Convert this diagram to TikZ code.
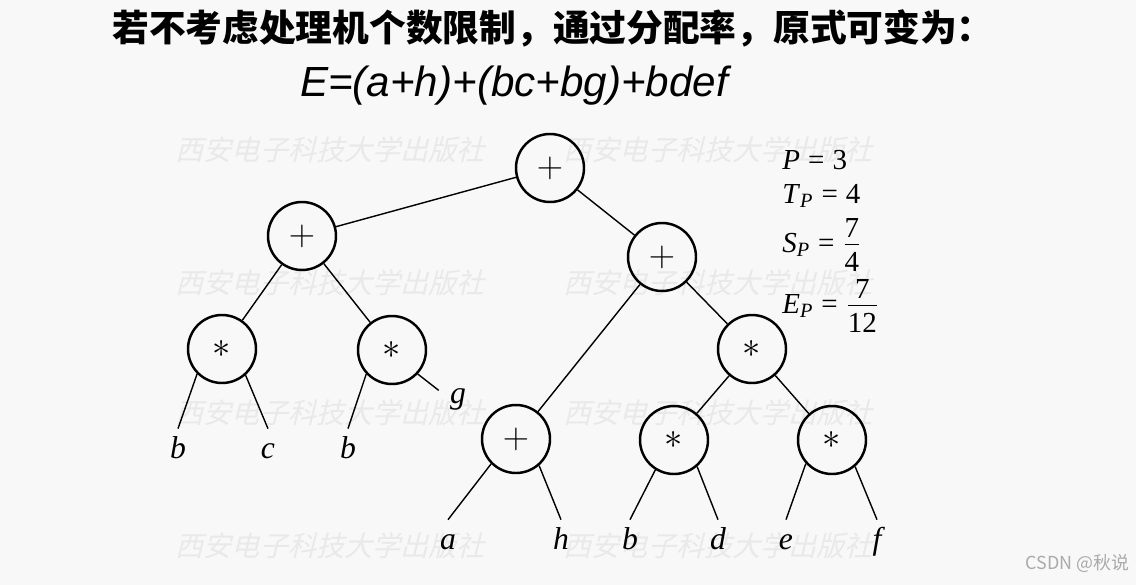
\documentclass[tikz,border=0pt]{standalone}
\usepackage{amsmath}
\usepackage{fontspec}
\setmainfont{Liberation Serif}
\newfontfamily\cjk{Noto Sans CJK SC}
\newfontfamily\formulafont{Liberation Sans}
\definecolor{bgc}{RGB}{248,248,248}
\definecolor{wmc}{RGB}{233,233,233}
\definecolor{csdn}{RGB}{170,170,170}
\newcommand{\myfrac}[2]{$\textstyle\frac{\mbox{#1}\rule[-3pt]{0pt}{1pt}}{\mbox{#2}\rule{0pt}{14pt}}$}
\begin{document}
\begin{tikzpicture}[x=0.02cm,y=-0.02cm,
  opnode/.style={circle,draw,line width=1.4pt,minimum size=68*0.02cm,inner sep=0pt,
    font=\fontsize{20pt}{22pt}\selectfont},
  leaf/.style={inner sep=0pt,minimum height=50*0.02cm,text height=0.7em,text depth=0.2em,
    font=\fontsize{18pt}{20pt}\selectfont\itshape},
  edge/.style={line width=0.8pt},
  wm/.style={text=wmc,font=\cjk\fontsize{16pt}{18pt}\selectfont,anchor=west,inner sep=0pt,xslant=0.25},
  stat/.style={anchor=west,inner sep=0pt,font=\fontsize{16.5pt}{20pt}\selectfont}
]
\fill[bgc] (0,0) rectangle (1136,585);
\useasboundingbox (0,0) rectangle (1136,585);
% watermarks
\foreach \wy/\wn in {150/1,283/2,413/3,546/4}{
  \node[wm] (wma\wn) at (178,\wy) {西安电子科技大学出版社};
  \node[wm] (wmb\wn) at (566,\wy) {西安电子科技大学出版社};
}
% title
\node[font=\cjk\bfseries\fontsize{20.9pt}{24pt}\selectfont,inner sep=0pt] (title) at (553,28) {若不考虑处理机个数限制，通过分配率，原式可变为：};
\node[font=\formulafont\itshape\fontsize{24pt}{28pt}\selectfont,inner sep=0pt] (formula) at (514,86) {E=(a+h)+(bc+bg)+bdef};
% operator nodes
\node[opnode] (root) at (550,168) {$+$};
\node[opnode] (lp) at (302,236) {$+$};
\node[opnode] (rp) at (662,257) {$+$};
\node[opnode] (lm) at (222,349) {$\ast$};
\node[opnode] (mm) at (392,350) {$\ast$};
\node[opnode] (rm) at (752,349) {$\ast$};
\node[opnode] (ah) at (516,439) {$+$};
\node[opnode] (bd) at (674,440) {$\ast$};
\node[opnode] (ef) at (832,440) {$\ast$};
% leaves
\node[leaf] (l1) at (178,454) {b};
\node[leaf] (l2) at (268,454) {c};
\node[leaf] (l3) at (348,454) {b};
\node[leaf] (l4) at (458,399) {g};
\node[leaf] (l5) at (448,545) {a};
\node[leaf] (l6) at (561,545) {h};
\node[leaf] (l7) at (630,545) {b};
\node[leaf] (l8) at (718,545) {d};
\node[leaf] (l9) at (786,545) {e};
\node[leaf] (l10) at (877,545) {f};
% internal edges
\draw[edge] (root) -- (lp);
\draw[edge] (root) -- (rp);
\draw[edge] (lp) -- (lm);
\draw[edge] (lp) -- (mm);
\draw[edge] (rp) -- (ah);
\draw[edge] (rp) -- (rm);
\draw[edge] (rm) -- (bd);
\draw[edge] (rm) -- (ef);
% leaf edges
\draw[edge] (lm.225) -- (l1.north);
\draw[edge] (lm.-48) -- (l2.north);
\draw[edge] (mm.223) -- (l3.north);
\draw[edge,shorten >=14*0.02cm] (mm.-43) -- (l4.west);
\draw[edge] (ah.225) -- (l5.north);
\draw[edge] (ah.-49) -- (l6.north);
\draw[edge] (bd.238) -- (l7.north);
\draw[edge] (bd.-49) -- (l8.north);
\draw[edge] (ef.222) -- (l9.north);
\draw[edge] (ef.-49) -- (l10.north);
% statistics
\node[stat] (s1) at (782,160) {\textit{P}\;=\;3};
\node[stat] (s2) at (782,196) {\textit{T}$_{\textit{P}}$\;=\;4};
\node[stat] (s3) at (782,245) {\textit{S}$_{\textit{P}}$\;=\;\myfrac{7}{4}};
\node[stat] (s4) at (782,306) {\textit{E}$_{\textit{P}}$\;=\;\myfrac{7}{12}};
% credit
\node[font=\cjk\fontsize{10.2pt}{12pt}\selectfont,text=csdn,anchor=east,inner sep=0pt] (credit) at (1130,564) {CSDN @秋说};
\end{tikzpicture}
\end{document}
